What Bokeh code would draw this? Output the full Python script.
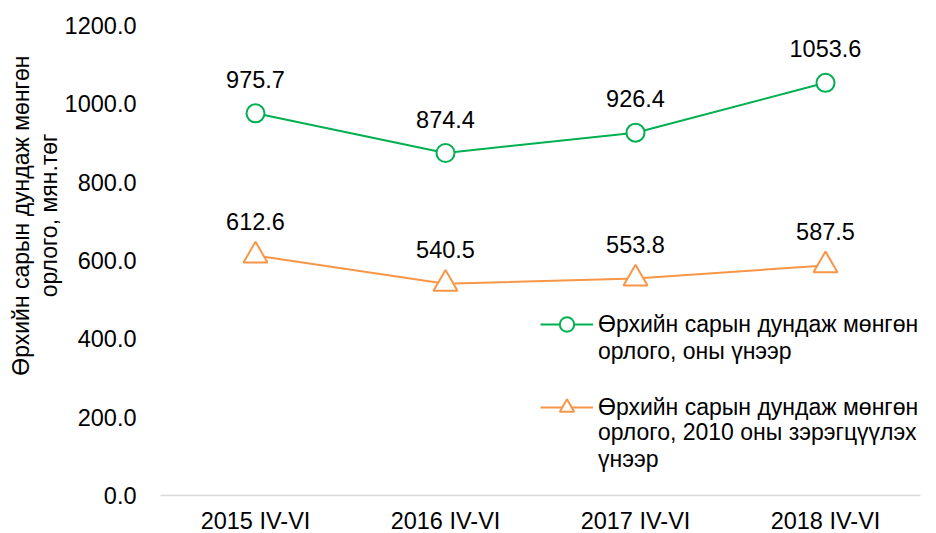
import math
from bokeh.plotting import figure
from bokeh.models import (Range1d, FixedTicker, NumeralTickFormatter, Legend,
                          LegendItem, Title, ColumnDataSource, LabelSet)
from bokeh.embed import file_html
from bokeh.resources import INLINE
from bokeh.core.properties import value

categories = ["2015 IV-VI", "2016 IV-VI", "2017 IV-VI", "2018 IV-VI"]
nominal = [975.7, 874.4, 926.4, 1053.6]
real = [612.6, 540.5, 553.8, 587.5]
y_ticks = [0, 200, 400, 600, 800, 1000, 1200]
series1_lines = ["Өрхийн сарын дундаж мөнгөн", "орлого, оны үнээр"]
series2_lines = ["Өрхийн сарын дундаж мөнгөн", "орлого, 2010 оны зэрэгцүүлэх", "үнээр"]
y_title_lines = ["Өрхийн сарын дундаж мөнгөн", "орлого, мян.төг"]

GREEN = "#00B050"
ORANGE = "#F79646"
FONT = "Liberation Sans"
FS = "23.5px"

p = figure(x_range=categories, y_range=Range1d(0, 1200),
           width=936, height=533, frame_width=760, frame_height=470,
           min_border_left=160, min_border_right=16, min_border_top=25,
           min_border_bottom=38, output_backend="svg", toolbar_location=None)

p.xgrid.visible = False
p.ygrid.visible = False
p.outline_line_color = None
p.background_fill_color = "white"

p.yaxis.ticker = FixedTicker(ticks=y_ticks)
p.yaxis.formatter = NumeralTickFormatter(format="0.0")
p.yaxis.axis_line_color = None
p.yaxis.major_tick_line_color = None
p.yaxis.minor_tick_line_color = None
p.yaxis.major_label_standoff = 18
p.yaxis.major_label_text_font = FONT
p.yaxis.major_label_text_font_size = FS
p.yaxis.major_label_text_color = "black"

p.xaxis.axis_line_color = "#d9d9d9"
p.xaxis.axis_line_width = 1.5
p.xaxis.major_tick_line_color = None
p.xaxis.minor_tick_line_color = None
p.xaxis.major_label_standoff = 6
p.xaxis.major_label_text_font = FONT
p.xaxis.major_label_text_font_size = FS
p.xaxis.major_label_text_color = "black"

l1 = p.line(categories, nominal, line_color=GREEN, line_width=2)
s1 = p.scatter(categories, nominal, marker="circle", size=18, fill_color="white",
               line_color=GREEN, line_width=2)
l2 = p.line(categories, real, line_color=ORANGE, line_width=2)
s2 = p.scatter(categories, real, marker="triangle", size=24, fill_color="white",
               line_color=ORANGE, line_width=2)

src = ColumnDataSource(dict(
    x=categories + categories,
    y=nominal + real,
    t=[f"{v:.1f}" for v in nominal + real],
))
p.add_layout(LabelSet(x="x", y="y", text="t", source=src, y_offset=34,
                      text_align="center", text_baseline="middle",
                      text_font=value(FONT), text_font_size=value(FS),
                      text_color="black"))

LEG_FS = "23px"


def legend_box(lines, renderers, loc, gw, gh, standoff):
    items = [LegendItem(label=txt, renderers=renderers) for txt in lines]
    return Legend(items=items, location=loc, border_line_color=None,
                  background_fill_alpha=0, glyph_width=gw, glyph_height=gh,
                  label_height=gh, label_standoff=standoff, padding=0, margin=0,
                  spacing=0, label_text_font=FONT, label_text_font_size=LEG_FS,
                  label_text_color="black")


# first lines with symbols
p.add_layout(legend_box(series1_lines[:1], [l1, s1], (380, 153), 53, 36, 5))
p.add_layout(legend_box(series2_lines[:1], [l2, s2], (380, 70), 53, 36, 5))
# continuation lines
p.add_layout(legend_box(series1_lines[1:], [], (438, 130), 0, 25, 0))
p.add_layout(legend_box(series2_lines[1:], [], (438, 22), 0, 25, 0))

# y-axis title, two lines (inner line added first)
p.add_layout(Title(text=y_title_lines[1], align="right", offset=108, standoff=0,
                   text_font=FONT, text_font_size="23px",
                   text_font_style="normal", text_color="black"), "left")
p.add_layout(Title(text=y_title_lines[0], align="right", offset=30, standoff=0,
                   text_font=FONT, text_font_size="23px",
                   text_font_style="normal", text_color="black"), "left")

open("out.html", "w").write(file_html(p, INLINE))
